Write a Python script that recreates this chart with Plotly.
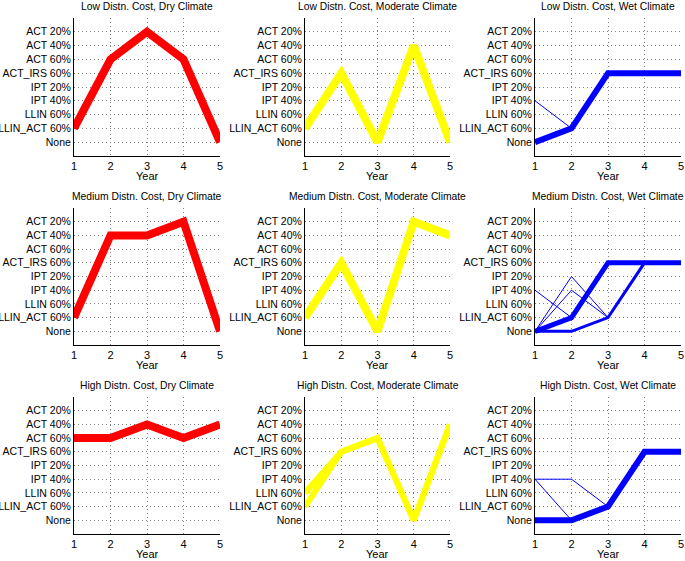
import plotly.graph_objects as go

# ---- data ----
categories = ["None", "LLIN_ACT 60%", "LLIN 60%", "IPT 40%", "IPT 20%",
              "ACT_IRS 60%", "ACT 60%", "ACT 40%", "ACT 20%"]
years = [1, 2, 3, 4, 5]

cost_levels = ["Low", "Medium", "High"]
climates = ["Dry", "Moderate", "Wet"]

# policy index per year (index into categories)
low_dry = [[1, 6, 8, 6, 0]]
low_mod = [[1, 5, 0, 7, 0]]
low_wet = [[0, 1, 5, 5, 5], [3, 1, 5, 5, 5]]
med_dry = [[1, 7, 7, 8, 0]]
med_mod = [[1, 5, 0, 8, 7]]
med_wet = [[0, 1, 5, 5, 5], [0, 0, 1, 5, 5], [0, 4, 1, 5, 5],
           [0, 3, 1, 5, 5], [3, 1, 5, 5, 5]]
high_dry = [[6, 6, 7, 6, 7]]
high_mod = [[2, 5, 6, 0, 7], [1, 5, 6, 0, 7]]
high_wet = [[0, 0, 1, 5, 5], [3, 3, 1, 5, 5], [3, 0, 1, 5, 5]]

panels = [[low_dry, low_mod, low_wet],
          [med_dry, med_mod, med_wet],
          [high_dry, high_mod, high_wet]]

# ---- styles ----
climate_colors = ["#ff0000", "#ffff00", "#0000ff"]
line_widths = {
    (0, 0): [8], (0, 1): [8], (0, 2): [6, 1],
    (1, 0): [8], (1, 1): [8], (1, 2): [5, 3, 1, 1, 1],
    (2, 0): [8], (2, 1): [6, 6], (2, 2): [6, 1, 1],
}

W, H = 685, 561
col_px = [(74, 220), (305, 450), (535, 681)]
row_px = [(18, 156), (208, 345), (397, 534)]
year_label_px = [176, 365, 554]

fig = go.Figure()
font_family = "Liberation Sans, Arial, sans-serif"

for r in range(3):
    for c in range(3):
        idx = r * 3 + c + 1
        xa = "x" if idx == 1 else f"x{idx}"
        ya = "y" if idx == 1 else f"y{idx}"
        for series, w in zip(panels[r][c], line_widths[(r, c)]):
            fig.add_trace(go.Scatter(
                x=years, y=series, mode="lines",
                line=dict(color=climate_colors[c], width=w),
                xaxis=xa, yaxis=ya, showlegend=False, hoverinfo="skip"))
        x0, x1 = col_px[c]
        y0, y1 = row_px[r]
        xkey = "xaxis" if idx == 1 else f"xaxis{idx}"
        ykey = "yaxis" if idx == 1 else f"yaxis{idx}"
        fig.layout[xkey] = dict(
            domain=[x0 / W, x1 / W], range=[1, 5],
            tickvals=years, ticktext=[str(y) for y in years],
            showgrid=True, gridcolor="#808080", griddash="1px,3px", gridwidth=1,
            showline=True, linecolor="black", linewidth=1, mirror=False,
            zeroline=False, anchor=ya, automargin=False,
            tickfont=dict(size=11, color="black", family=font_family),
            ticks="", fixedrange=True)
        fig.layout[ykey] = dict(
            domain=[1 - y1 / H, 1 - y0 / H], range=[-1, 9],
            tickvals=list(range(-1, 10)),
            ticktext=[""] + categories + [""],
            showgrid=True, gridcolor="#808080", griddash="1px,3px", gridwidth=1,
            showline=True, linecolor="black", linewidth=1, mirror=False,
            zeroline=False, anchor=xa, automargin=False,
            tickfont=dict(size=10.5, color="black", family=font_family),
            ticks="", fixedrange=True)
        fig.add_annotation(
            x=(x0 + x1) / 2 / W, y=1 - (y0 - 12) / H, xref="paper", yref="paper",
            text=f"{cost_levels[r]} Distn. Cost, {climates[c]} Climate",
            showarrow=False, xanchor="center", yanchor="middle",
            font=dict(size=10.3, color="black", family=font_family))
        fig.add_annotation(
            x=(x0 + x1) / 2 / W, y=1 - year_label_px[r] / H, xref="paper", yref="paper",
            text="Year", showarrow=False, xanchor="center", yanchor="middle",
            font=dict(size=11, color="black", family=font_family))

fig.update_layout(
    width=W, height=H, margin=dict(l=0, r=0, t=0, b=0, autoexpand=False),
    paper_bgcolor="white", plot_bgcolor="white",
    font=dict(family=font_family, size=11, color="black"))

fig.write_html("out.html", config={"displayModeBar": False},
               post_script="document.body.style.margin='0px';")
